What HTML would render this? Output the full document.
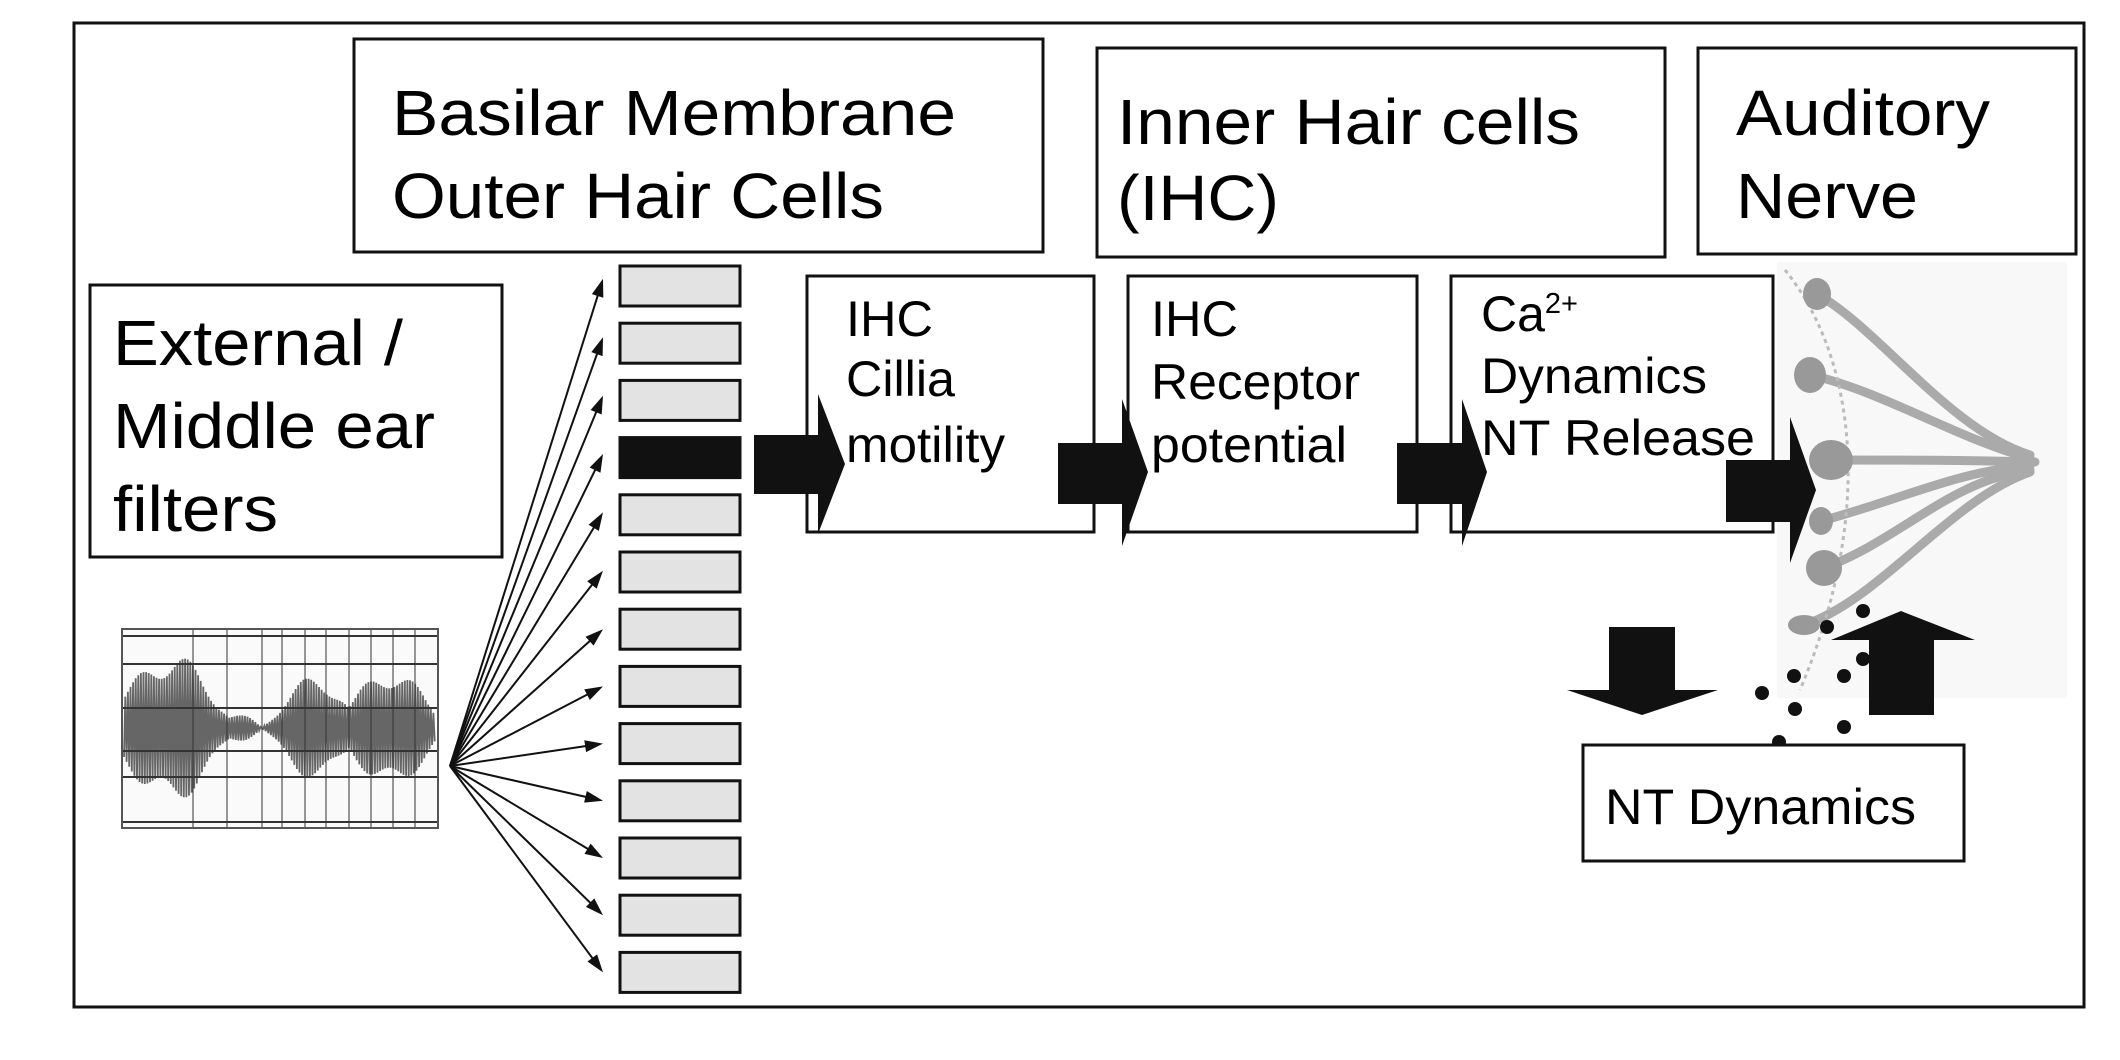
<!DOCTYPE html>
<html><head><meta charset="utf-8"><style>
html,body{margin:0;padding:0;background:#fff;}
svg{display:block;font-family:"Liberation Sans",Arial,sans-serif;}
</style></head><body>
<svg width="2120" height="1060" viewBox="0 0 2120 1060">
<rect x="0" y="0" width="2120" height="1060" fill="#fff"/>
<rect x="74" y="23" width="2010" height="984" fill="none" stroke="#111" stroke-width="3"/>

<g>
<rect x="354" y="39" width="689" height="213" fill="#fff" stroke="#111" stroke-width="3"/>
<text x="392" y="135" font-size="64" textLength="564" lengthAdjust="spacingAndGlyphs">Basilar Membrane</text>
<text x="392" y="218" font-size="64" textLength="492" lengthAdjust="spacingAndGlyphs">Outer Hair Cells</text>
</g>
<g>
<rect x="1097" y="48" width="568" height="209" fill="#fff" stroke="#111" stroke-width="3"/>
<text x="1117" y="144" font-size="64" textLength="463" lengthAdjust="spacingAndGlyphs">Inner Hair cells</text>
<text x="1117" y="220" font-size="64" textLength="162" lengthAdjust="spacingAndGlyphs">(IHC)</text>
</g>
<g>
<rect x="1698" y="48" width="378" height="206" fill="#fff" stroke="#111" stroke-width="3"/>
<text x="1736" y="135" font-size="64" textLength="254" lengthAdjust="spacingAndGlyphs">Auditory</text>
<text x="1736" y="218" font-size="64" textLength="182" lengthAdjust="spacingAndGlyphs">Nerve</text>
</g>
<g>
<rect x="90" y="285" width="412" height="272" fill="#fff" stroke="#111" stroke-width="3"/>
<text x="113" y="365" font-size="64" textLength="290" lengthAdjust="spacingAndGlyphs">External /</text>
<text x="113" y="448" font-size="64" textLength="322" lengthAdjust="spacingAndGlyphs">Middle ear</text>
<text x="113" y="531" font-size="64" textLength="165" lengthAdjust="spacingAndGlyphs">filters</text>
</g>

<g id="filters"></g>
<g id="fan"></g>

<g>
<rect x="122" y="629" width="316" height="199" fill="#fafafa" stroke="#555" stroke-width="2"/>
<path id="wave" fill="none" stroke="#666" stroke-width="1.8"/>
<g id="wgrid" stroke="#333" stroke-width="2"></g>
</g>

<g>
<rect x="807" y="276" width="287" height="256" fill="#fff" stroke="#111" stroke-width="3"/>
<text x="846" y="336" font-size="50" textLength="87" lengthAdjust="spacingAndGlyphs">IHC</text>
<text x="846" y="396" font-size="50" textLength="109" lengthAdjust="spacingAndGlyphs">Cillia</text>
<text x="846" y="462" font-size="50" textLength="159" lengthAdjust="spacingAndGlyphs">motility</text>
</g>
<g>
<rect x="1128" y="276" width="289" height="256" fill="#fff" stroke="#111" stroke-width="3"/>
<text x="1151" y="336" font-size="50" textLength="87" lengthAdjust="spacingAndGlyphs">IHC</text>
<text x="1151" y="399" font-size="50" textLength="209" lengthAdjust="spacingAndGlyphs">Receptor</text>
<text x="1151" y="462" font-size="50" textLength="196" lengthAdjust="spacingAndGlyphs">potential</text>
</g>
<g>
<rect x="1451" y="276" width="322" height="256" fill="#fff" stroke="#111" stroke-width="3"/>
<text x="1481" y="331" font-size="50">Ca<tspan font-size="29" dy="-18">2+</tspan></text>
<text x="1481" y="393" font-size="50" textLength="226" lengthAdjust="spacingAndGlyphs">Dynamics</text>
<text x="1481" y="455" font-size="50" textLength="274" lengthAdjust="spacingAndGlyphs">NT Release</text>
</g>

<g>
<rect x="1777" y="262" width="290" height="436" fill="#f8f8f8"/>
<g stroke="#aaa" stroke-width="9" fill="none" stroke-linecap="round">
<path d="M1817 294 C1880 330 1950 430 2030 455"/>
<path d="M1810 375 C1880 390 1960 440 2030 458"/>
<path d="M1831 460 C1900 460 1960 460 2035 462"/>
<path d="M1821 521 C1900 500 1960 470 2030 466"/>
<path d="M1824 568 C1900 540 1950 480 2030 470"/>
<path d="M1804 625 C1880 600 1950 500 2030 472"/>
</g>
<path d="M1785 270 C1850 350 1880 500 1800 690" fill="none" stroke="#bbb" stroke-width="3" stroke-dasharray="4 4"/>
<g fill="#999">
<ellipse cx="1817" cy="294" rx="14" ry="16"/>
<ellipse cx="1810" cy="375" rx="16" ry="18"/>
<ellipse cx="1831" cy="460" rx="22" ry="20"/>
<ellipse cx="1821" cy="521" rx="12" ry="14"/>
<ellipse cx="1824" cy="568" rx="18" ry="18"/>
<ellipse cx="1804" cy="625" rx="16" ry="10"/>
</g>
</g>

<g fill="#111">
<polygon points="754,435 818,435 818,394 845,464 818,534 818,494 754,494"/>
<polygon points="1058,443 1122,443 1122,399 1148,472 1122,546 1122,504 1058,504"/>
<polygon points="1397,443 1462,443 1462,399 1487,472 1462,546 1462,504 1397,504"/>
<polygon points="1726,460 1790,460 1790,417 1816,490 1790,563 1790,522 1726,522"/>
<polygon points="1609,627 1675,627 1675,690 1718,690 1642,715 1567,690 1609,690"/>
<polygon points="1869,715 1934,715 1934,640 1975,640 1901,611 1831,640 1869,640"/>
</g>
<g fill="#111">
<circle cx="1762" cy="693" r="7"/><circle cx="1794" cy="676" r="7"/><circle cx="1795" cy="709" r="7"/>
<circle cx="1827" cy="627" r="7"/><circle cx="1863" cy="611" r="7"/><circle cx="1863" cy="659" r="7"/>
<circle cx="1844" cy="676" r="7"/><circle cx="1844" cy="727" r="7"/><circle cx="1779" cy="742" r="7"/>
</g>

<g>
<rect x="1583" y="745" width="381" height="116" fill="#fff" stroke="#111" stroke-width="3"/>
<text x="1605" y="824" font-size="50" textLength="311" lengthAdjust="spacingAndGlyphs">NT Dynamics</text>
</g>
</svg>
<script>
var NS="http://www.w3.org/2000/svg";
var filterCount=13;
var activeFilter=3;
var fg=document.getElementById('filters'), fan=document.getElementById('fan');
for(var i=0;i<filterCount;i++){
  var y=266+i*57.2;
  var r=document.createElementNS(NS,'rect');
  r.setAttribute('x',620);r.setAttribute('y',y);r.setAttribute('width',120);r.setAttribute('height',40);
  r.setAttribute('fill',i===activeFilter?'#111':'#e3e3e3');r.setAttribute('stroke','#111');r.setAttribute('stroke-width',3);
  
  
  fg.appendChild(r);
  var ty=y+20+ (i<6? -(6-i)*1.2:0), tx=603;
  var ox=450, oy=766;
  var ang=Math.atan2(ty-oy,tx-ox);
  var L=Math.hypot(tx-ox,ty-oy)-16;
  var ln=document.createElementNS(NS,'line');
  ln.setAttribute('x1',ox);ln.setAttribute('y1',oy);ln.setAttribute('x2',ox+L*Math.cos(ang));ln.setAttribute('y2',oy+L*Math.sin(ang));
  ln.setAttribute('stroke','#111');ln.setAttribute('stroke-width',2);
  
  
  fan.appendChild(ln);
  var p=document.createElementNS(NS,'polygon');
  var c=Math.cos(ang),s=Math.sin(ang);
  var bx=tx-18*c,by=ty-18*s;
  p.setAttribute('points',tx+','+ty+' '+(bx-6*s)+','+(by+6*c)+' '+(bx+6*s)+','+(by-6*c));
  p.setAttribute('fill','#111');
  
  
  fan.appendChild(p);
}
var wg=document.getElementById('wgrid');
[636,664,708,751,777,822].forEach(function(y){var l=document.createElementNS(NS,'line');l.setAttribute('x1',123);l.setAttribute('x2',437);l.setAttribute('y1',y);l.setAttribute('y2',y);wg.appendChild(l);});
[193,227,262,282,305,326,349,371,393,415].forEach(function(x){var l=document.createElementNS(NS,'line');l.setAttribute('y1',630);l.setAttribute('y2',827);l.setAttribute('x1',x);l.setAttribute('x2',x);l.setAttribute('stroke-width',1);wg.appendChild(l);});
var d='';
for(var x=124;x<=436;x+=1.3){
  var env=20+60*Math.abs(Math.sin((x-110)/38))*(0.75+0.25*Math.sin((x-120)/9));
  var v=env*Math.sin(x*2.4);
  d+=(d?'L':'M')+x.toFixed(1)+' '+(728+v).toFixed(1);
}
document.getElementById('wave').setAttribute('d',d);
</script>
</body></html>
